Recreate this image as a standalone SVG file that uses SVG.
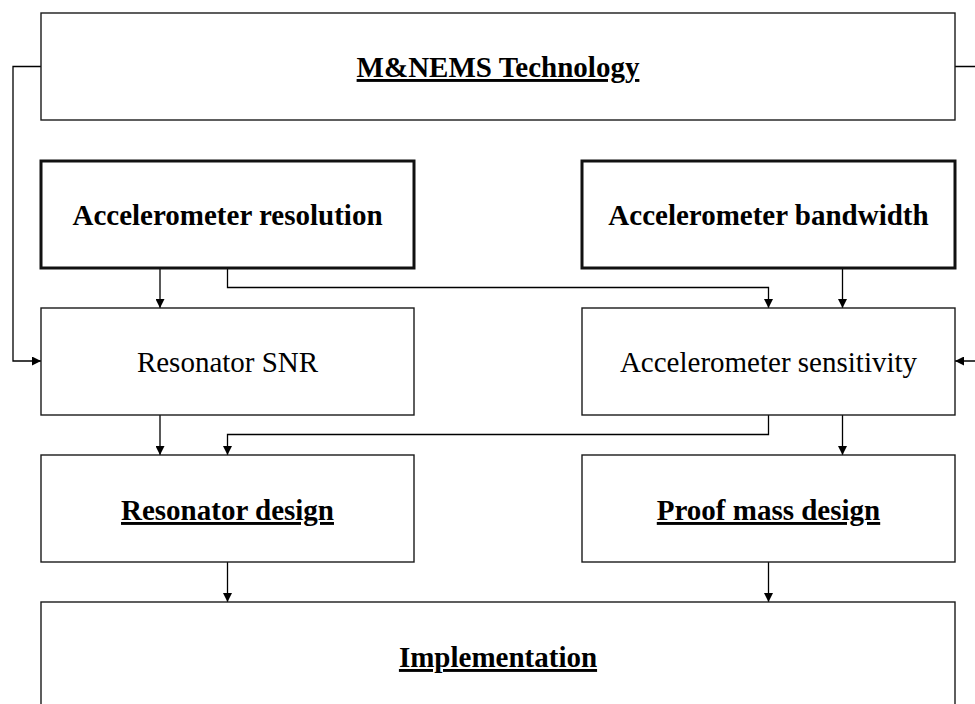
<svg xmlns="http://www.w3.org/2000/svg" width="975" height="704" viewBox="0 0 975 704">
<defs>
<marker id="arr" markerUnits="userSpaceOnUse" markerWidth="9" markerHeight="9" viewBox="0 0 9 9" refX="9" refY="4.5" orient="auto">
<path d="M0,0 L9,4.5 L0,9 Z" fill="#000"/>
</marker>
<style>
.box{fill:#fff;stroke:#1a1a1a;stroke-width:1.4}
.thick{fill:#fff;stroke:#111;stroke-width:3}
.t{font-family:"Liberation Serif","Times New Roman",serif;font-size:29px;fill:#000;text-anchor:middle}
.b{font-weight:bold;text-decoration:underline}
.bn{font-weight:bold}
.c{fill:none;stroke:#000;stroke-width:1.3;marker-end:url(#arr)}
</style>
</defs>
<rect width="975" height="704" fill="#fff"/>
<g id="connectors">
<path class="c" d="M41,66.5 H13 V361 H41"/>
<path class="c" d="M955,66.5 H985 V361 H955"/>
<path class="c" d="M160,268 V308"/>
<path class="c" d="M227.5,268 V287.5 H768.5 V308"/>
<path class="c" d="M842.5,268 V308"/>
<path class="c" d="M160,415 V455"/>
<path class="c" d="M768.5,415 V434.5 H227.5 V455"/>
<path class="c" d="M842.5,415 V455"/>
<path class="c" d="M227.5,562 V602"/>
<path class="c" d="M768.5,562 V602"/>
</g>
<g id="mnems">
<rect class="box" x="41" y="13" width="914" height="107"/>
<text class="t b" x="498" y="77">M&amp;NEMS Technology</text>
</g>
<g id="resolution">
<rect class="thick" x="41" y="161" width="373" height="107"/>
<text class="t bn" x="227.5" y="225">Accelerometer resolution</text>
</g>
<g id="bandwidth">
<rect class="thick" x="582" y="161" width="373" height="107"/>
<text class="t bn" x="768.5" y="225">Accelerometer bandwidth</text>
</g>
<g id="snr">
<rect class="box" x="41" y="308" width="373" height="107"/>
<text class="t" x="227.5" y="371.5">Resonator SNR</text>
</g>
<g id="sensitivity">
<rect class="box" x="582" y="308" width="373" height="107"/>
<text class="t" x="768.5" y="371.5">Accelerometer sensitivity</text>
</g>
<g id="resdesign">
<rect class="box" x="41" y="455" width="373" height="107"/>
<text class="t b" x="227.5" y="520">Resonator design</text>
</g>
<g id="proofmass">
<rect class="box" x="582" y="455" width="373" height="107"/>
<text class="t b" x="768.5" y="520">Proof mass design</text>
</g>
<g id="implementation">
<rect class="box" x="41" y="602" width="914" height="120"/>
<text class="t b" x="498" y="667">Implementation</text>
</g>
</svg>
